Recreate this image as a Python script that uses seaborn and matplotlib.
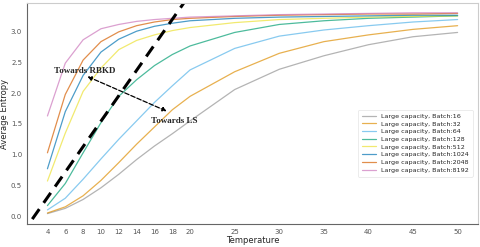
import matplotlib
matplotlib.use("Agg")
import matplotlib.pyplot as plt
import seaborn as sns
import pandas as pd

temps = [4, 6, 8, 10, 12, 14, 16, 18, 20, 25, 30, 35, 40, 45, 50]
batches = [16, 32, 64, 128, 512, 1024, 2048, 8192]
ent_16   = [0.04, 0.125, 0.27, 0.46, 0.68, 0.92, 1.14, 1.34, 1.55, 2.06, 2.39, 2.61, 2.79, 2.92, 2.99]
ent_32   = [0.05, 0.15, 0.33, 0.58, 0.87, 1.17, 1.45, 1.73, 1.95, 2.35, 2.65, 2.84, 2.95, 3.04, 3.10]
ent_64   = [0.10, 0.29, 0.60, 0.93, 1.25, 1.55, 1.85, 2.12, 2.38, 2.73, 2.93, 3.03, 3.10, 3.16, 3.20]
ent_128  = [0.17, 0.53, 1.03, 1.52, 1.95, 2.22, 2.45, 2.63, 2.77, 2.99, 3.12, 3.18, 3.22, 3.24, 3.26]
ent_512  = [0.57, 1.35, 2.03, 2.41, 2.71, 2.86, 2.95, 3.02, 3.07, 3.15, 3.20, 3.22, 3.24, 3.25, 3.26]
ent_1024 = [0.77, 1.70, 2.29, 2.67, 2.88, 3.01, 3.09, 3.14, 3.18, 3.22, 3.24, 3.25, 3.26, 3.27, 3.27]
ent_2048 = [1.03, 1.98, 2.54, 2.84, 3.00, 3.10, 3.16, 3.20, 3.22, 3.25, 3.27, 3.28, 3.29, 3.29, 3.30]
ent_8192 = [1.63, 2.49, 2.87, 3.05, 3.12, 3.17, 3.20, 3.22, 3.24, 3.26, 3.28, 3.29, 3.30, 3.31, 3.31]
series = [ent_16, ent_32, ent_64, ent_128, ent_512, ent_1024, ent_2048, ent_8192]
labels = [f"Large capacity, Batch:{b}" for b in batches]

colors = ["#949494", "#de8f05", "#56b4e9", "#029e73", "#ece133", "#0173b2", "#d55e00", "#cc78bc"]

rows = []
for lab, vals in zip(labels, series):
    for t, v in zip(temps, vals):
        rows.append({"Temperature": t, "Average Entropy": v, "run": lab})
df = pd.DataFrame(rows)

sns.set_style("white")
plt.rcParams["font.family"] = ["DejaVu Sans"]
fig, ax = plt.subplots(figsize=(4.81, 2.47), dpi=100)
sns.lineplot(data=df, x="Temperature", y="Average Entropy", hue="run",
             palette=colors, hue_order=labels, linewidth=0.9, alpha=0.7, ax=ax)

# diagonal dashed line
ax.plot([2.3, 20.5], [-0.05, 3.72], color="black", linestyle=(0, (4, 2.5)), linewidth=2.2)

ax.annotate("", xy=(8.2, 2.29), xytext=(17.66, 1.69),
            arrowprops=dict(arrowstyle="<|-|>", linestyle="--", color="black", lw=0.9,
                            mutation_scale=6))
ax.text(8.2, 2.37, "Towards RBKD", ha="center", va="center", fontsize=6.5,
        fontweight="bold", family="Liberation Serif")
ax.text(18.2, 1.55, "Towards LS", ha="center", va="center", fontsize=6.5,
        fontweight="bold", family="Liberation Serif")

ax.set_xlim(1.7, 52.3)
ax.set_ylim(-0.13, 3.47)
ax.set_xticks([4, 6, 8, 10, 12, 14, 16, 18, 20, 25, 30, 35, 40, 45, 50])
ax.set_yticks([0.0, 0.5, 1.0, 1.5, 2.0, 2.5, 3.0])
ax.tick_params(axis="both", labelsize=5, length=2, width=0.5, colors="#555555", pad=1.5)
ax.set_xlabel("Temperature", fontsize=6, labelpad=1)
ax.set_ylabel("Average Entropy", fontsize=6, labelpad=1)
for s in ["left", "bottom"]:
    ax.spines[s].set_color("#666666")
    ax.spines[s].set_linewidth(0.8)
for s in ["top", "right"]:
    ax.spines[s].set_color("#cccccc")
    ax.spines[s].set_linewidth(0.8)

leg = ax.legend(loc="lower right", bbox_to_anchor=(0.995, 0.2), fontsize=4.6, frameon=True,
                handlelength=2.2, labelspacing=0.35, borderpad=0.6)
leg.get_frame().set_linewidth(0.5)
leg.get_frame().set_edgecolor("#dddddd")

fig.subplots_adjust(left=0.056, right=0.994, top=0.988, bottom=0.093)
fig.savefig("out.png", dpi=100)
